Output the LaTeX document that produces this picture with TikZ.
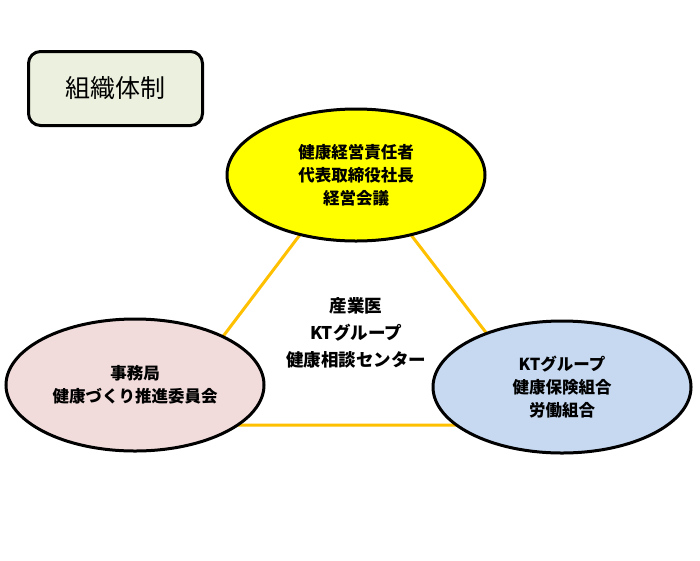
\documentclass[tikz,border=0pt]{standalone}
\usepackage{fontspec}
\setmainfont{Noto Sans CJK JP}
\usetikzlibrary{shapes.geometric}
\definecolor{titlefill}{HTML}{EBF1DE}
\definecolor{topfill}{HTML}{FFFF00}
\definecolor{leftfill}{HTML}{F2DCDB}
\definecolor{rightfill}{HTML}{C6D9F1}
\definecolor{triline}{HTML}{FFC000}
\tikzset{
  orgellipse/.style={ellipse, draw=black, line width=3pt, minimum width=258pt, minimum height=132pt, inner sep=0pt, align=center, font=\fontsize{16.5}{23}\selectfont\bfseries},
  titlebox/.style={rectangle, rounded corners=12pt, draw=black, line width=3pt, fill=titlefill, minimum width=174pt, minimum height=74pt, font=\fontsize{25}{28}\selectfont},
  triedge/.style={draw=triline, line width=3pt},
  centertext/.style={align=center, font=\fontsize{17.5}{27}\selectfont\bfseries}
}
\begin{document}
\begin{tikzpicture}[x=1pt,y=-1pt]
\useasboundingbox (0,0) rectangle (700,560);
\fill[white] (0,0) rectangle (700,560);
\coordinate (tA) at (355,162);
\coordinate (tB) at (156,425);
\coordinate (tC) at (557,425);
\draw[triedge] (tA) -- (tB) -- (tC) -- cycle;
\node[titlebox] (title) at (115.5,88.5) {組織体制};
\node[orgellipse, fill=topfill] (top) at (356,175) {健康経営責任者\\代表取締役社長\\経営会議};
\node[orgellipse, fill=leftfill] (left) at (135,385) {事務局\\健康づくり推進委員会};
\node[orgellipse, fill=rightfill] (right) at (562,387) {KTグループ\\健康保険組合\\労働組合};
\node[centertext] (center) at (356,333) {産業医\\KTグループ\\健康相談センター};
\end{tikzpicture}
\end{document}
